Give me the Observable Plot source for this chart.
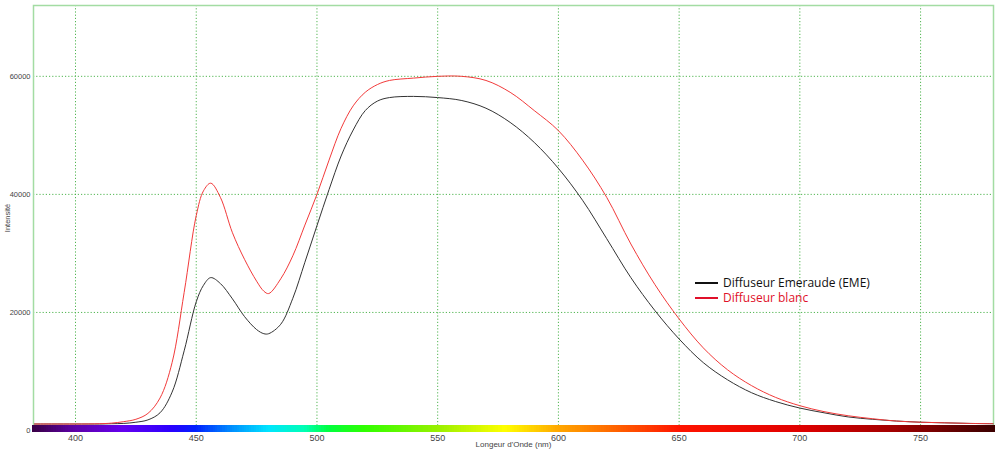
<!DOCTYPE html>
<html>
<head>
<meta charset="utf-8">
<script src="https://cdn.jsdelivr.net/npm/d3@7"></script>
<script src="https://cdn.jsdelivr.net/npm/@observablehq/plot@0.6"></script>
<style>
  html, body { margin: 0; padding: 0; background: #fff; }
  #wrap { position: relative; width: 1000px; height: 454px; }
  .legend { position: absolute; left: 695px; top: 275px; font-family: "Open Sans", sans-serif; font-size: 12px; line-height: 15px; }
  .legend div { display: flex; align-items: center; }
  .legend span.sw { display: inline-block; width: 23px; height: 2px; margin-right: 5px; }
</style>
</head>
<body>
<div id="wrap"></div>
<script>
// Wavelengths (nm)
const wavelengths = [383, 390, 400, 410, 415, 420, 425, 430, 435, 440, 445, 450, 453, 456, 460, 465, 470, 475, 478, 480, 485, 490, 495, 500, 505, 510, 515, 520, 525, 530, 540, 550, 560, 570, 580, 590, 600, 610, 620, 630, 640, 650, 660, 670, 680, 690, 700, 710, 720, 730, 740, 750, 760, 770, 780];
// Diffuseur Emeraude (EME) - black
const emeraude = [1100, 1100, 1100, 1100, 1150, 1200, 1400, 1800, 3000, 6500, 13500, 21800, 24600, 25900, 24900, 22300, 19300, 17100, 16400, 16400, 18000, 22400, 28500, 34700, 40800, 46500, 50900, 54200, 55800, 56400, 56600, 56400, 55900, 54600, 52200, 48800, 44400, 39000, 32500, 25900, 20300, 15500, 11500, 8600, 6400, 4900, 3800, 3000, 2300, 1900, 1600, 1400, 1300, 1200, 1150];
// Diffuseur blanc - red
const blanc = [1100, 1100, 1100, 1150, 1250, 1500, 1900, 2900, 5500, 11500, 23400, 36400, 40600, 41900, 39500, 33500, 29000, 25300, 23600, 23200, 25700, 29600, 34800, 40000, 45800, 51200, 55000, 57300, 58600, 59300, 59700, 60000, 60000, 59300, 57300, 54200, 50800, 45800, 39500, 31600, 24700, 18900, 14000, 10300, 7600, 5600, 4200, 3200, 2500, 2000, 1600, 1400, 1300, 1200, 1150];

const xTicks = [400, 450, 500, 550, 600, 650, 700, 750];
const yTicks = [0, 20000, 40000, 60000];

// Spectrum bar colour stops
const specNm = [383, 400, 420, 440, 450, 465, 480, 495, 505, 520, 550, 578, 600, 625, 650, 700, 740, 780];
const specCol = ["#3a0048", "#5e00a8", "#6400f0", "#2a00ff", "#0020ff", "#0090ff", "#00e4ff", "#00ffb4", "#00ff40", "#30ff00", "#98f000", "#ffff00", "#ffa800", "#ff6000", "#ff1400", "#e00000", "#a00000", "#3c0000"];

const rows = [];
wavelengths.forEach((w, i) => {
  rows.push({nm: w, v: emeraude[i], s: "Diffuseur Emeraude (EME)"});
});
wavelengths.forEach((w, i) => {
  rows.push({nm: w, v: blanc[i], s: "Diffuseur blanc"});
});

const specScale = d3.scaleLinear().domain(specNm).range(specCol).interpolate(d3.interpolateRgb);
const specBins = d3.range(382, 781, 1).map(n => ({a: n, b: n + 1.2, c: specScale(Math.max(383, Math.min(780, n + 0.5)))}));

const green = "#3fae3f";
const chart = Plot.plot({
  width: 1000,
  height: 454,
  marginLeft: 33,
  marginRight: 7,
  marginTop: 5,
  marginBottom: 24,
  style: {fontFamily: "'Liberation Sans', Arial, sans-serif", background: "#fff"},
  x: {domain: [382.6, 780.2]},
  y: {domain: [0, 72000]},
  color: {type: "identity"},
  marks: [
    Plot.gridX(xTicks, {stroke: green, strokeOpacity: 0.9, strokeDasharray: "1.2,2"}),
    Plot.gridY(yTicks.slice(1), {stroke: green, strokeOpacity: 0.9, strokeDasharray: "1.2,2"}),
    Plot.frame({stroke: "#a3dca3", strokeWidth: 1.5}),
    Plot.line(rows, {x: "nm", y: "v", z: "s", stroke: d => d.s === "Diffuseur blanc" ? "#f23a3a" : "#333333", strokeWidth: 1, curve: "catmull-rom"}),
    Plot.rect(specBins, {x1: "a", x2: "b", fill: "c", insetTop: 420, insetBottom: -2, shapeRendering: "crispEdges"}),
    Plot.axisX(xTicks, {tickSize: 0, tickPadding: 4, fontSize: 9, fill: "#444", label: null}),
    Plot.axisY(yTicks, {tickSize: 0, tickPadding: 3, fontSize: 7.5, fill: "#444", label: null, tickFormat: d => String(d)}),
    Plot.text(["Longeur d'Onde (nm)"], {frameAnchor: "bottom", dy: 16, fontSize: 8, fill: "#444"}),
    Plot.text(["Intensité"], {frameAnchor: "left", textAnchor: "middle", dx: -26, rotate: -90, fontSize: 7.5, fill: "#444"})
  ]
});
const wrap = document.getElementById("wrap");
wrap.appendChild(chart);

const legend = document.createElement("div");
legend.className = "legend";
legend.innerHTML = `
  <div style="color:#111"><span class="sw" style="background:#111"></span>Diffuseur Emeraude (EME)</div>
  <div style="color:#e0102a"><span class="sw" style="background:#e0102a"></span>Diffuseur blanc</div>`;
wrap.appendChild(legend);
</script>
</body>
</html>
